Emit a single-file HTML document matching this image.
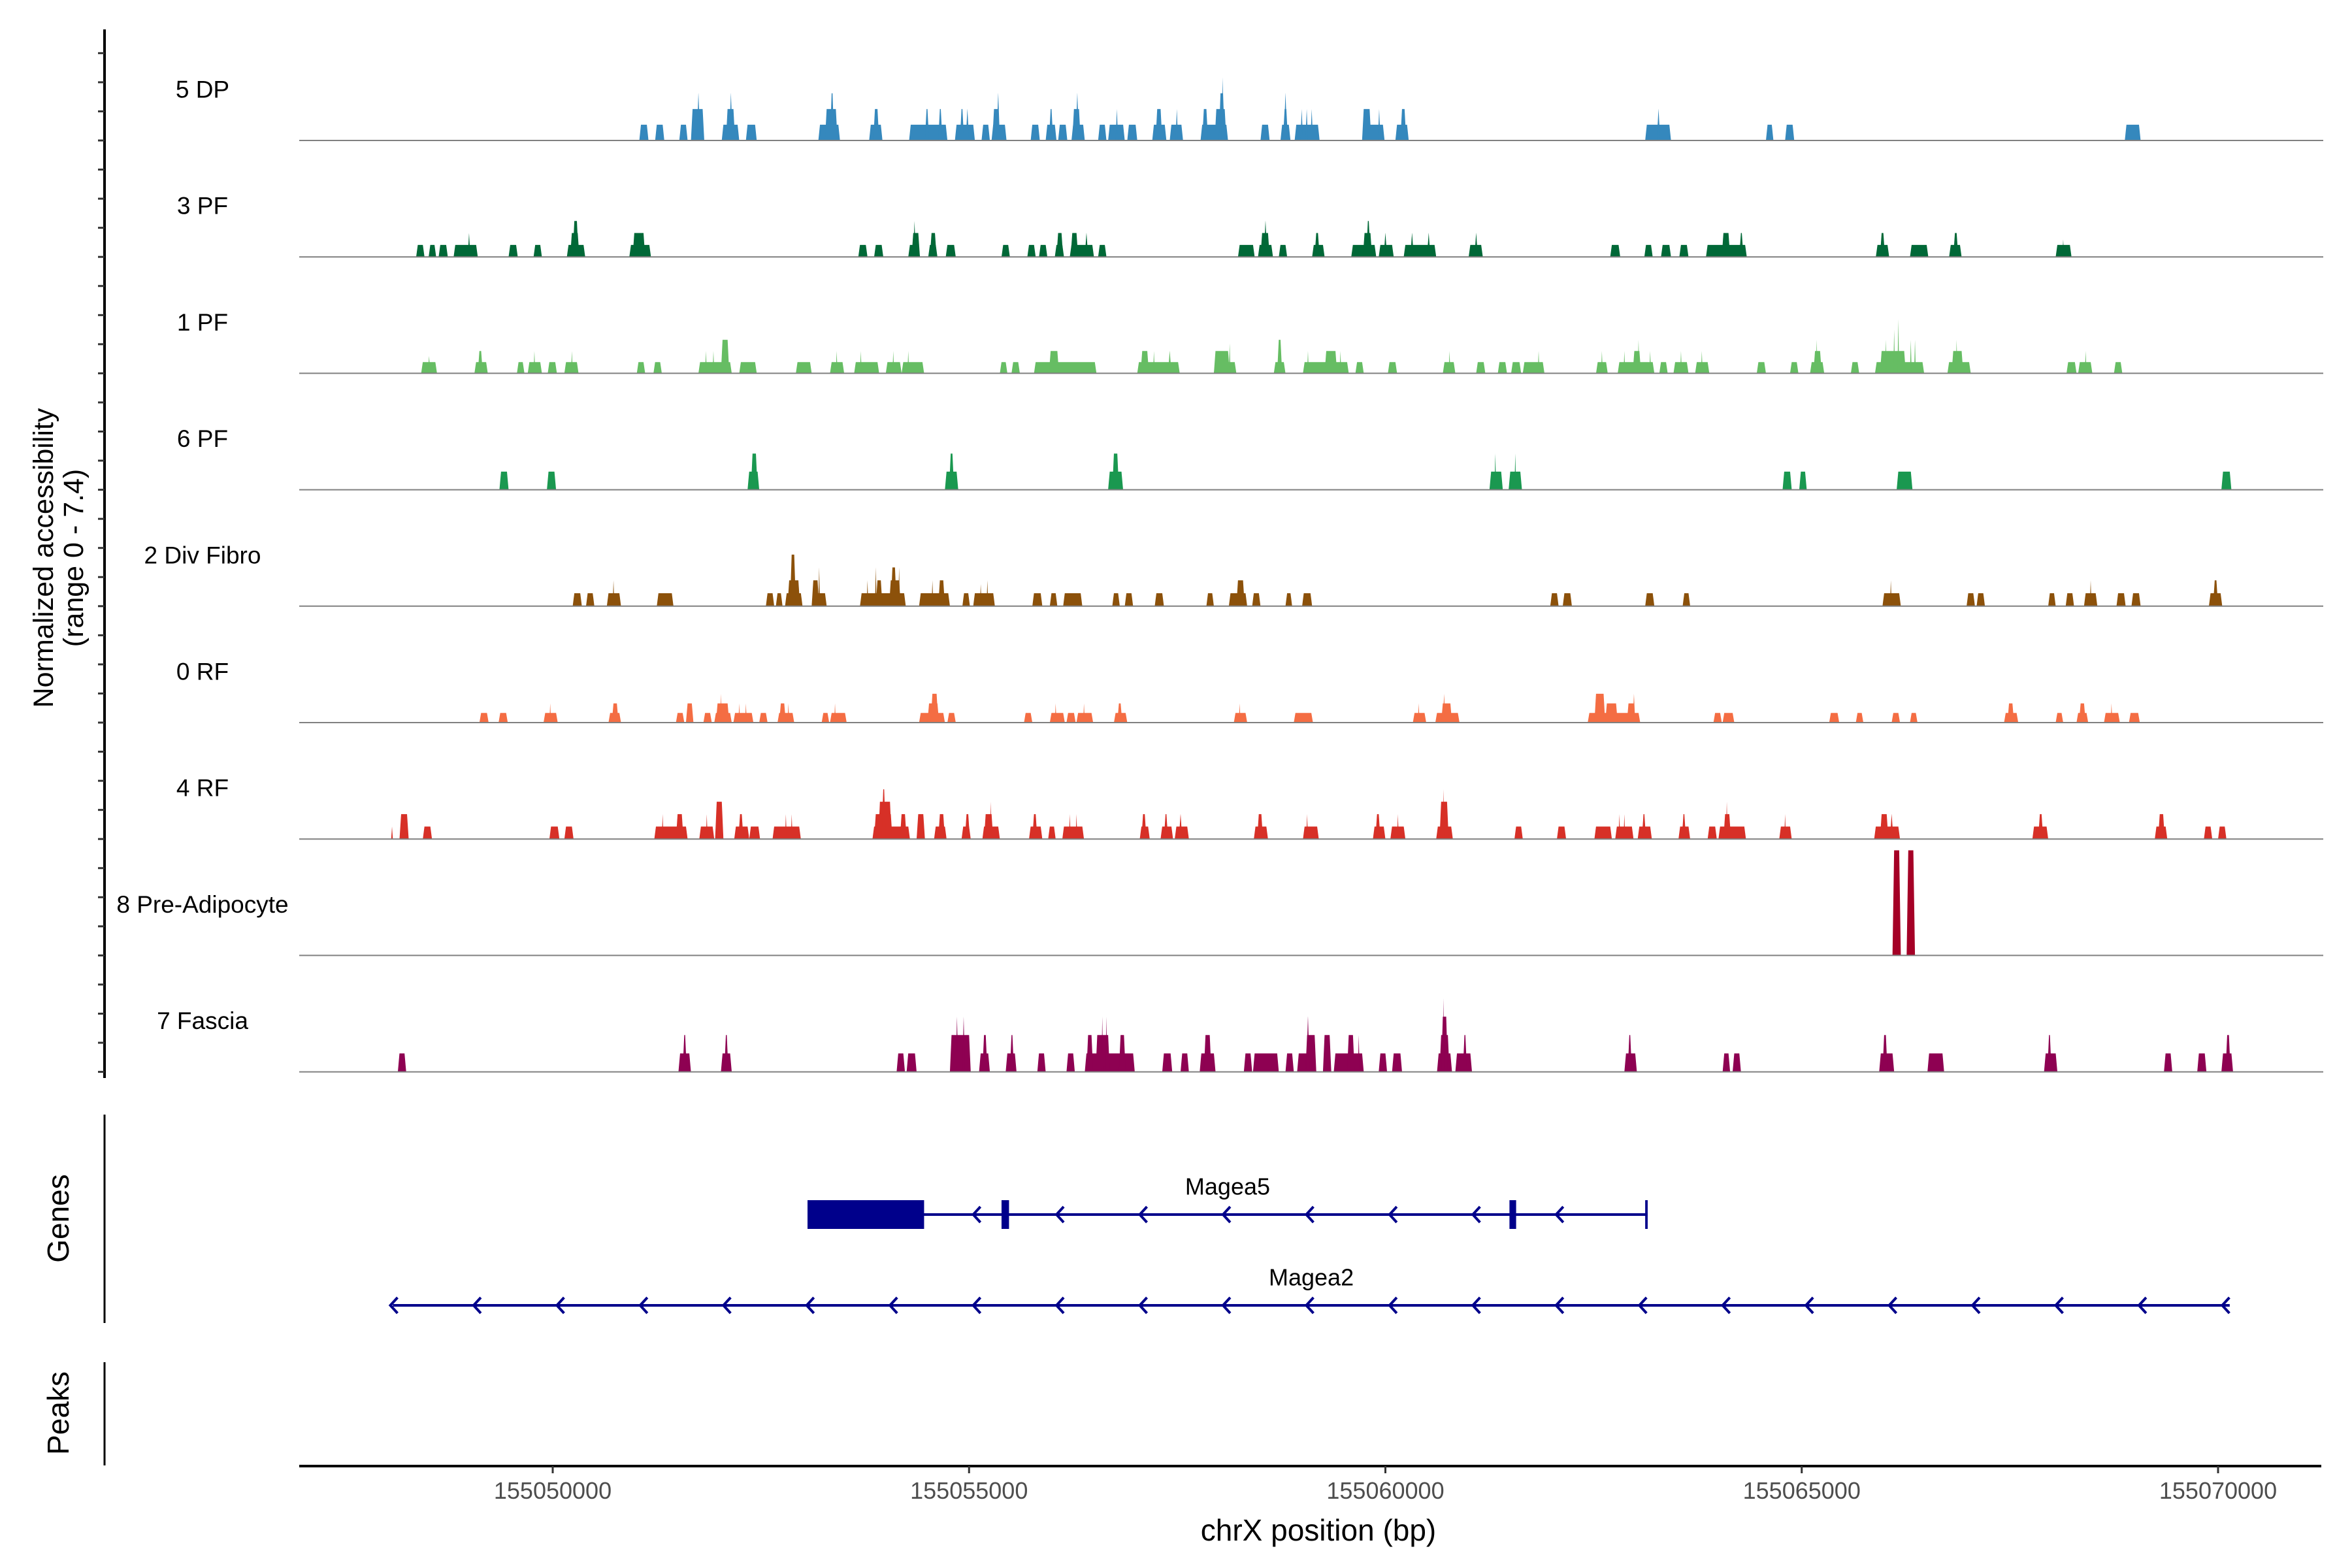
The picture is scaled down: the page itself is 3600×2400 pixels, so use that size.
<!DOCTYPE html>
<html><head><meta charset="utf-8"><style>
html,body{margin:0;padding:0;background:#fff;}
svg{display:block;font-family:"Liberation Sans",Arial,sans-serif;}
</style></head><body>
<svg id="chart" width="3600" height="2400" viewBox="0 0 3600 2400" xmlns="http://www.w3.org/2000/svg">
<g id="tracks"></g>
<g id="genes"></g>
<g id="axes"></g>
<text transform="translate(81,854) rotate(-90)" text-anchor="middle" font-size="43" fill="#000">Normalized accessibility</text>
<text transform="translate(127,854) rotate(-90)" text-anchor="middle" font-size="43" fill="#000">(range 0 - 7.4)</text>
<text transform="translate(105,1865) rotate(-90)" text-anchor="middle" font-size="46" fill="#000">Genes</text>
<text transform="translate(105,2163) rotate(-90)" text-anchor="middle" font-size="46" fill="#000">Peaks</text>
<text x="2018" y="2358" text-anchor="middle" font-size="46" fill="#000">chrX position (bp)</text>
</svg>
<script>
// positions in kb from chrX:155,000,000 ; values = normalized accessibility
const OFFSET_BP = 155000000;
const trackNames = ["5 DP","3 PF","1 PF","6 PF","2 Div Fibro","0 RF","4 RF","8 Pre-Adipocyte","7 Fascia"];
const trackColors = ["#3588bd","#006837","#66bd63","#1a9850","#8c510a","#f46d43","#d73027","#a50026","#8e0152"];
const xTicks = [155050000,155055000,155060000,155065000,155070000];
const yMax = 7.4;

const peaksDP = [[51.04,51.15,1],[51.23,51.34,1],[51.52,51.62,1],[51.66,51.82,2],[51.73,51.77,3],[52.03,52.24,1],[52.08,52.19,2],[52.12,52.16,3],[52.32,52.45,1],[53.19,53.45,1],[53.27,53.42,2],[53.33,53.38,3],[53.80,53.96,1],[53.85,53.92,2],[54.28,54.74,1],[54.47,54.52,2],[54.63,54.68,2],[54.83,55.07,1],[54.89,54.94,2],[54.96,55.00,2],[55.15,55.25,1],[55.27,55.45,1],[55.28,55.37,2],[55.33,55.37,3],[55.74,55.85,1],[55.92,56.05,1],[55.96,56.01,2],[56.07,56.18,1],[56.23,56.39,1],[56.24,56.34,2],[56.28,56.32,3],[56.55,56.65,1],[56.67,56.87,1],[56.76,56.79,2],[56.90,57.02,1],[57.20,57.37,1],[57.24,57.32,2],[57.41,57.57,1],[57.48,57.51,2],[57.78,58.11,1],[57.80,57.87,2],[57.95,58.09,2],[58.00,58.07,3],[58.03,58.06,4],[58.50,58.61,1],[58.74,58.86,1],[58.77,58.83,2],[58.78,58.82,3],[58.91,59.21,1],[58.98,59.01,2],[59.04,59.07,2],[59.10,59.13,2],[59.72,59.99,1],[59.72,59.83,2],[59.91,59.94,2],[60.12,60.28,1],[60.18,60.25,2],[63.12,63.43,1],[63.26,63.30,2],[64.57,64.66,1],[64.80,64.91,1],[68.88,69.07,1]];
const peaks3PF = [[48.36,48.46,.76],[48.51,48.60,.76],[48.63,48.74,.76],[48.81,49.10,.76],[48.98,49.01,1.52],[49.47,49.58,.76],[49.77,49.87,.76],[50.17,50.39,.76],[50.21,50.32,1.52],[50.24,50.31,2.28],[50.92,51.18,.76],[50.96,51.11,1.52],[53.67,53.78,.76],[53.86,53.97,.76],[54.27,54.41,.76],[54.31,54.41,1.52],[54.33,54.36,2.28],[54.51,54.62,.76],[54.53,54.61,1.52],[54.72,54.84,.76],[55.39,55.49,.76],[55.70,55.80,.76],[55.84,55.94,.76],[56.03,56.14,.76],[56.05,56.13,1.52],[56.21,56.50,.76],[56.22,56.31,1.52],[56.39,56.43,1.52],[56.55,56.65,.76],[58.23,58.43,.76],[58.47,58.65,.76],[58.50,58.61,1.52],[58.54,58.58,2.28],[58.72,58.82,.76],[59.12,59.27,.76],[59.15,59.21,1.52],[59.59,59.89,.76],[59.73,59.84,1.52],[59.77,59.82,2.28],[59.92,60.10,.76],[59.98,60.02,1.52],[60.22,60.61,.76],[60.30,60.34,1.52],[60.50,60.54,1.52],[61.00,61.17,.76],[61.07,61.11,1.52],[62.70,62.82,.76],[63.11,63.21,.76],[63.31,63.43,.76],[63.53,63.64,.76],[63.85,64.34,.76],[64.04,64.14,1.52],[64.25,64.30,1.52],[65.89,66.05,.76],[65.94,66.00,1.52],[66.30,66.52,.76],[66.77,66.92,.76],[66.82,66.88,1.52],[68.05,68.24,.76],[68.13,68.15,1.1]];
const peaks1PF = [[48.42,48.61,.71],[48.50,48.53,1.1],[49.06,49.22,.71],[49.10,49.16,1.42],[49.57,49.66,.71],[49.70,49.87,.71],[49.77,49.79,1.42],[49.94,50.05,.71],[50.14,50.31,.71],[50.22,50.24,1.42],[51.01,51.11,.71],[51.21,51.31,.71],[51.75,52.15,.71],[51.83,51.85,1.42],[51.92,51.94,1.42],[52.02,52.12,2.13],[52.24,52.45,.71],[52.92,53.11,.71],[53.33,53.50,.71],[53.40,53.42,1.42],[53.62,53.92,.71],[53.69,53.71,1.42],[54.00,54.19,.71],[54.08,54.10,1.42],[54.19,54.46,.71],[54.26,54.28,1.42],[55.37,55.46,.71],[55.51,55.61,.71],[55.78,56.53,.71],[55.96,56.08,1.42],[57.02,57.53,.71],[57.06,57.16,1.42],[57.21,57.23,1.42],[57.39,57.43,1.42],[57.94,58.21,.71],[57.94,58.13,1.42],[58.12,58.14,1.9],[58.66,58.80,.71],[58.70,58.76,2.13],[59.01,59.56,.71],[59.06,59.08,1.42],[59.27,59.42,1.42],[59.45,59.47,1.42],[59.64,59.74,.71],[60.03,60.14,.71],[60.69,60.84,.71],[60.76,60.78,1.42],[61.09,61.20,.71],[61.35,61.46,.71],[61.51,61.63,.71],[61.65,61.91,.71],[61.83,61.85,1.42],[62.53,62.67,.71],[62.59,62.61,1.42],[62.79,63.23,.71],[62.86,62.88,1.42],[62.97,63.07,1.42],[63.03,63.05,2.13],[63.17,63.19,1.42],[63.29,63.39,.71],[63.46,63.64,.71],[63.54,63.56,1.42],[63.72,63.89,.71],[63.79,63.81,1.42],[64.46,64.57,.71],[64.86,64.96,.71],[65.10,65.27,.71],[65.14,65.24,1.42],[65.17,65.19,2.13],[65.59,65.69,.71],[65.88,66.47,.71],[65.94,66.25,1.42],[66.00,66.02,2.13],[66.10,66.12,2.78],[66.15,66.17,3.45],[66.30,66.32,2.13],[66.35,66.37,2.13],[66.75,67.03,.71],[66.80,66.94,1.42],[66.85,66.87,2.13],[68.18,68.30,.71],[68.32,68.49,.71],[68.40,68.42,1.42],[68.75,68.85,.71]];
const peaks6PF = [[49.36,49.47,1.15],[49.93,50.04,1.15],[52.34,52.48,1.15],[52.38,52.46,2.3],[54.71,54.87,1.15],[54.76,54.82,2.3],[56.67,56.85,1.15],[56.72,56.80,2.3],[61.25,61.41,1.15],[61.31,61.33,2.3],[61.48,61.64,1.15],[61.55,61.57,2.3],[64.77,64.88,1.15],[64.97,65.06,1.15],[66.14,66.33,1.15],[70.04,70.16,1.15]];
const peaksDiv = [[50.24,50.35,.82],[50.40,50.50,.82],[50.65,50.82,.82],[50.72,50.74,1.64],[51.25,51.45,.82],[52.56,52.66,.82],[52.68,52.76,.82],[52.79,53.00,.82],[52.82,52.97,1.64],[52.85,52.92,3.28],[53.11,53.29,.82],[53.11,53.20,1.64],[53.19,53.21,2.46],[53.69,54.24,.82],[53.77,53.79,1.64],[53.88,53.96,1.64],[53.87,53.89,2.46],[54.04,54.18,1.64],[54.06,54.13,2.46],[54.15,54.17,2.46],[54.40,54.77,.82],[54.55,54.57,1.64],[54.63,54.71,1.64],[54.92,55.01,.82],[55.05,55.31,.82],[55.13,55.15,1.4],[55.21,55.23,1.64],[55.76,55.88,.82],[55.97,56.06,.82],[56.13,56.36,.82],[56.72,56.81,.82],[56.87,56.97,.82],[57.23,57.34,.82],[57.85,57.94,.82],[58.12,58.34,.82],[58.21,58.31,1.64],[58.40,58.50,.82],[58.80,58.88,.82],[59.00,59.12,.82],[61.98,62.08,.82],[62.13,62.24,.82],[63.12,63.23,.82],[63.57,63.66,.82],[65.97,66.19,.82],[66.06,66.08,1.64],[66.98,67.08,.82],[67.10,67.20,.82],[67.96,68.05,.82],[68.17,68.27,.82],[68.39,68.55,.82],[68.46,68.48,1.64],[68.78,68.89,.82],[68.96,69.07,.82],[69.89,70.05,.82],[69.94,70.00,1.64]];
const peaks0RF = [[49.12,49.23,.61],[49.35,49.46,.61],[49.89,50.06,.61],[49.96,49.98,1.22],[50.67,50.82,.61],[50.71,50.79,1.22],[51.48,51.58,.61],[51.60,51.69,1.22],[51.81,51.91,.61],[51.94,52.15,.61],[51.96,52.12,1.22],[52.01,52.03,1.83],[52.17,52.41,.61],[52.23,52.25,1.22],[52.31,52.33,1.22],[52.48,52.58,.61],[52.70,52.90,.61],[52.72,52.80,1.22],[52.82,52.84,1.22],[53.23,53.32,.61],[53.33,53.53,.61],[53.38,53.40,1.22],[54.40,54.71,.61],[54.50,54.64,1.22],[54.54,54.63,1.83],[54.74,54.84,.61],[55.66,55.76,.61],[55.97,56.15,.61],[56.03,56.05,1.22],[56.17,56.28,.61],[56.29,56.49,.61],[56.37,56.39,1.22],[56.74,56.90,.61],[56.78,56.84,1.22],[58.18,58.34,.61],[58.24,58.26,1.22],[58.90,59.13,.61],[60.33,60.49,.61],[60.39,60.41,1.22],[60.60,60.89,.61],[60.67,60.80,1.22],[60.69,60.72,1.83],[62.43,63.06,.61],[62.51,62.64,1.83],[62.64,62.79,1.22],[62.90,63.00,1.22],[62.97,63.00,1.83],[63.94,64.04,.61],[64.05,64.19,.61],[65.33,65.45,.61],[65.65,65.74,.61],[66.08,66.18,.61],[66.30,66.39,.61],[67.43,67.60,.61],[67.47,67.55,1.22],[68.05,68.14,.61],[68.30,68.44,.61],[68.33,68.41,1.22],[68.63,68.82,.61],[68.71,68.73,1.22],[68.93,69.06,.61]];
const peaks4RF = [[48.06,48.08,.79],[48.16,48.27,1.58],[48.44,48.55,.79],[49.96,50.08,.79],[50.14,50.25,.79],[51.22,51.62,.79],[51.31,51.33,1.58],[51.48,51.57,1.58],[51.76,51.94,.79],[51.84,51.86,1.58],[51.95,52.05,2.37],[52.18,52.36,.79],[52.23,52.29,1.58],[52.36,52.49,.79],[52.64,52.98,.79],[52.79,52.81,1.58],[52.86,52.88,1.58],[53.84,54.29,.79],[53.86,54.08,1.58],[53.91,54.07,2.37],[53.95,54.00,3.16],[54.17,54.25,1.58],[54.37,54.47,1.58],[54.58,54.73,.79],[54.63,54.71,1.58],[54.91,55.02,.79],[54.95,55.01,1.58],[55.16,55.37,.79],[55.18,55.29,1.58],[55.25,55.27,2.37],[55.72,55.88,.79],[55.76,55.82,1.58],[55.95,56.04,.79],[56.12,56.38,.79],[56.20,56.22,1.58],[56.28,56.30,1.58],[57.05,57.17,.79],[57.07,57.13,1.58],[57.30,57.45,.79],[57.34,57.39,1.58],[57.47,57.64,.79],[57.52,57.56,1.58],[58.42,58.59,.79],[58.46,58.53,1.58],[59.01,59.20,.79],[59.05,59.07,1.58],[59.85,60.00,.79],[59.88,59.94,1.58],[60.06,60.24,.79],[60.14,60.16,1.58],[60.61,60.81,.79],[60.65,60.76,2.37],[60.69,60.71,3.16],[61.55,61.65,.79],[62.06,62.17,.79],[62.51,62.72,.79],[62.76,62.98,.79],[62.80,62.82,1.58],[62.86,62.88,1.58],[63.03,63.20,.79],[63.08,63.13,1.58],[63.52,63.66,.79],[63.56,63.61,1.58],[63.87,63.98,.79],[64.00,64.33,.79],[64.06,64.15,1.58],[64.09,64.11,2.37],[64.73,64.88,.79],[64.79,64.81,1.58],[65.87,66.18,.79],[65.94,66.04,1.58],[66.06,66.10,1.58],[67.77,67.96,.79],[67.84,67.90,1.58],[69.24,69.39,.79],[69.28,69.36,1.58],[69.83,69.93,.79],[70.00,70.10,.79]];
const peaksPre = [[66.09,66.19,6.68],[66.26,66.36,6.68]];
const peaksFascia = [[48.14,48.24,1.17],[51.51,51.66,1.17],[51.56,51.61,2.34],[52.02,52.15,1.17],[52.06,52.11,2.34],[54.13,54.23,1.17],[54.25,54.37,1.17],[54.77,55.02,2.34],[54.84,54.87,3.51],[54.92,54.95,3.51],[55.12,55.25,1.17],[55.16,55.22,2.34],[55.44,55.57,1.17],[55.49,55.54,2.34],[55.82,55.92,1.17],[56.17,56.27,1.17],[56.39,56.99,1.17],[56.41,56.49,2.34],[56.52,56.69,2.34],[56.59,56.61,3.51],[56.64,56.66,3.51],[56.80,56.88,2.34],[57.32,57.44,1.17],[57.54,57.64,1.17],[57.77,57.96,1.17],[57.82,57.91,2.34],[58.30,58.40,1.17],[58.41,58.72,1.17],[58.80,58.90,1.17],[58.94,59.17,1.17],[59.04,59.17,2.34],[59.05,59.09,3.51],[59.25,59.35,2.34],[59.38,59.74,1.17],[59.54,59.63,2.34],[59.67,59.69,2.34],[59.92,60.02,1.17],[60.08,60.20,1.17],[60.62,60.80,1.17],[60.65,60.77,2.34],[60.67,60.75,3.51],[60.69,60.71,4.68],[60.84,61.04,1.17],[60.93,60.98,2.34],[62.87,63.02,1.17],[62.91,62.96,2.34],[64.05,64.14,1.17],[64.17,64.27,1.17],[65.93,66.11,1.17],[65.97,66.03,2.34],[66.51,66.71,1.17],[67.91,68.07,1.17],[67.95,68.00,2.34],[69.35,69.45,1.17],[69.75,69.86,1.17],[70.04,70.18,1.17],[70.09,70.15,2.34]];
const trackPeaks = [peaksDP,peaks3PF,peaks1PF,peaks6PF,peaksDiv,peaks0RF,peaks4RF,peaksPre,peaksFascia];

const geneNames = ["Magea5","Magea2"];
const geneStarts = [53.06,48.08];
const geneEnds = [63.15,70.14];
const geneExons = [[[53.06,54.46],[55.39,55.48],[61.49,61.57],[63.12,63.15]],[]];
const chevronOrigin = 48.05;
const chevronStep = 1.0;

// layout
const NS="http://www.w3.org/2000/svg";
const X0=458, X1=3553, BASE0=215, TSTEP=178.2;
const PXPERUNIT = TSTEP/yMax;
function xScale(bp){ return 846 + (bp-155050000)*0.12745; }
function xKb(kb){ return xScale(OFFSET_BP + kb*1000); }
function yVal(trackIdx,v){ return BASE0 + trackIdx*TSTEP - v*PXPERUNIT; }
function mk(tag, attrs, parent){ const e=document.createElementNS(NS,tag); for(const k in attrs) e.setAttribute(k,attrs[k]); parent.appendChild(e); return e; }

const gT=document.getElementById('tracks');
trackNames.forEach((name,i)=>{
  const base=BASE0+i*TSTEP;
  const g=mk('g',{},gT);
  
  
  const lab=mk('text',{x:310,y:base-78,'text-anchor':'middle','dominant-baseline':'central','font-size':37,fill:'#000'},g);
  lab.textContent=name;
  
  
  trackPeaks[i].forEach(p=>{
    const xa=xKb(p[0]), xb=xKb(p[1]), yt=yVal(i,p[2]);
    const s=Math.min(2.5,(xb-xa)/2);
    const poly=mk('polygon',{points:`${xa},${base} ${xa+s},${yt} ${xb-s},${yt} ${xb},${base}`,fill:trackColors[i]},g);
    
    
  });
  const bl=mk('line',{x1:X0,x2:X1+3,y1:base,y2:base,stroke:'#808080','stroke-width':2},g);
  
  
});

// genes
const gG=document.getElementById('genes');
const geneY=[1859,1998], labelY=[1816,1955];
geneNames.forEach((nm,gi)=>{
  const g=mk('g',{},gG);
  
  
  const y=geneY[gi], xs=xKb(geneStarts[gi]), xe=xKb(geneEnds[gi]);
  const ln=mk('line',{x1:xs,x2:xe,y1:y,y2:y,stroke:'#00008b','stroke-width':4},g);
  
  
  geneExons[gi].forEach(ex=>{
    const xa=xKb(ex[0]), xb=xKb(ex[1]);
    const r=mk('rect',{x:xa,y:y-22,width:Math.max(3,xb-xa),height:44,fill:'#00008b'},g);
    
    
  });
  for(let k=0;k<40;k++){
    const kb=chevronOrigin+k*chevronStep;
    if(kb<geneStarts[gi]-0.05||kb>geneEnds[gi]-0.05) continue;
    if(geneExons[gi].some(ex=>kb>=ex[0]-0.1&&kb<=ex[1]+0.05)) continue;
    const cx=xKb(kb);
    const c=mk('polyline',{points:`${cx+11},${y-12} ${cx},${y} ${cx+11},${y+12}`,fill:'none',stroke:'#00008b','stroke-width':4},g);
    
    
  }
  const t=mk('text',{x:(xs+xe)/2,y:labelY[gi],'text-anchor':'middle','dominant-baseline':'central','font-size':36,fill:'#000'},g);
  t.textContent=nm;
  
  
});

// axes
const gA=document.getElementById('axes');
const ya=mk('line',{x1:160,x2:160,y1:45,y2:1650,stroke:'#000','stroke-width':4},gA);


for(let k=0;k<36;k++){
  const ty=BASE0-3*TSTEP/4+k*TSTEP/4;
  const t=mk('line',{x1:150,x2:160,y1:ty,y2:ty,stroke:'#333','stroke-width':3},gA);
  
  
}
const ga=mk('line',{x1:160,x2:160,y1:1706,y2:2025,stroke:'#000','stroke-width':3},gA);


const pa=mk('line',{x1:160,x2:160,y1:2085,y2:2243,stroke:'#000','stroke-width':3},gA);


const xa=mk('line',{x1:X0,x2:X1,y1:2244,y2:2244,stroke:'#000','stroke-width':4},gA);


xTicks.forEach(v=>{
  const x=xScale(v);
  const t=mk('line',{x1:x,x2:x,y1:2244,y2:2255,stroke:'#333','stroke-width':3},gA);
  
  
  const l=mk('text',{x:x,y:2294,'text-anchor':'middle','font-size':36,fill:'#4d4d4d'},gA);
  l.textContent=String(v);
  
  
});
</script>
</body></html>
